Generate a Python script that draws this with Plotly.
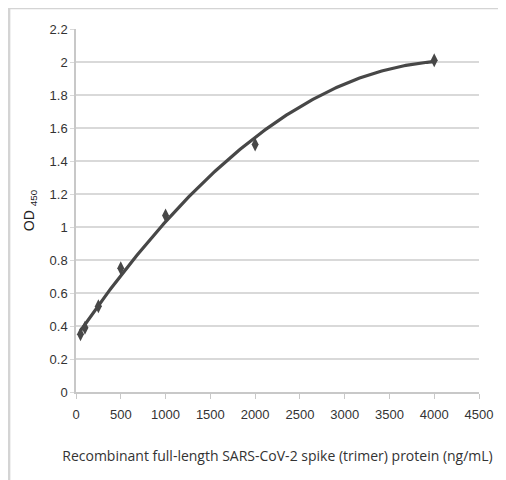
import numpy as np
import plotly.graph_objects as go

conc = [50, 100, 250, 500, 1000, 2000, 4000]
od450 = [0.35, 0.39, 0.52, 0.75, 1.07, 1.50, 2.01]
x_ticks = [0, 500, 1000, 1500, 2000, 2500, 3000, 3500, 4000, 4500]
y_ticks = [0, 0.2, 0.4, 0.6, 0.8, 1, 1.2, 1.4, 1.6, 1.8, 2, 2.2]

# polynomial (order 2) trendline, as in the spreadsheet chart
coef = np.polyfit(conc, od450, 2)
xs = np.linspace(min(conc), max(conc), 200)
ys = np.polyval(coef, xs)

fig = go.Figure()
fig.add_trace(go.Scatter(x=xs, y=ys, mode="lines",
                         line=dict(color="#474747", width=3.2), hoverinfo="skip"))
fig.add_trace(go.Scatter(x=conc, y=od450, mode="markers",
                         marker=dict(symbol="diamond-tall", size=10, color="#474747")))

axis_font = dict(family="Liberation Sans Narrow, Arial Narrow, sans-serif",
                 size=13, color="#333333")
fig.update_layout(
    width=498, height=472,
    margin=dict(l=68, r=27, t=21, b=88),
    paper_bgcolor="white", plot_bgcolor="white",
    showlegend=False,
    xaxis=dict(range=[0, 4500], tickvals=x_ticks, ticktext=[str(v) for v in x_ticks],
               showgrid=False, zeroline=False, showline=True, linecolor="#c8c8c8", linewidth=1.5,
               ticks="outside", ticklen=5, tickcolor="#c8c8c8", tickfont=axis_font,
               ticklabelstandoff=5,
               title=dict(text="Recombinant full-length SARS-CoV-2 spike (trimer) protein (ng/mL)",
                          font=dict(family="Open Sans, sans-serif", size=14, color="#333333"),
                          standoff=30)),
    yaxis=dict(range=[0, 2.2], tickvals=y_ticks, ticktext=[f"{v:g}" for v in y_ticks],
               showgrid=True, gridcolor="#d9d9d9", gridwidth=1.5, zeroline=False,
               showline=True, linecolor="#c8c8c8", linewidth=1.5,
               ticks="outside", ticklen=4, tickcolor="#d9d9d9", tickfont=axis_font,
               title=dict(text="OD <sub>450</sub>",
                          font=dict(family="Liberation Sans, Arial, sans-serif", size=14, color="#222222"),
                          standoff=12)),
    shapes=[dict(type="rect", xref="paper", yref="paper",
                 x0=-0.166, x1=1.08, y0=-0.26, y1=1.058,
                 line=dict(color="#d4d4d4", width=2.5), layer="below")],
)

fig.write_html("out.html")
